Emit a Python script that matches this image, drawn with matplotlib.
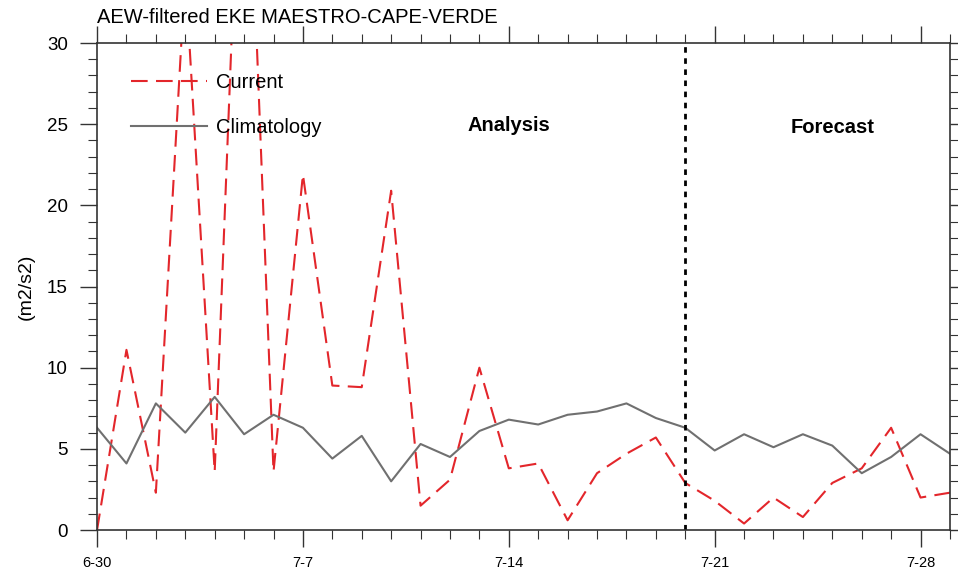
import matplotlib
matplotlib.use("Agg")
import matplotlib.pyplot as plt
import numpy as np

plt.rcParams['font.family'] = ['Liberation Sans', 'DejaVu Sans']

# daily values, 6-30 .. 7-29
days = np.arange(30)
current = [0.0, 11.1, 2.3, 34.3, 3.6, 50.0, 3.6, 21.9, 8.9, 8.8,
           20.9, 1.5, 3.1, 10.0, 3.8, 4.1, 0.6, 3.5, 4.7, 5.7,
           2.9, 1.8, 0.4, 2.0, 0.8, 2.9, 3.8, 6.3, 2.0, 2.3]
climatology = [6.3, 4.1, 7.8, 6.0, 8.2, 5.9, 7.1, 6.3, 4.4, 5.8,
               3.0, 5.3, 4.5, 6.1, 6.8, 6.5, 7.1, 7.3, 7.8, 6.9,
               6.3, 4.9, 5.9, 5.1, 5.9, 5.2, 3.5, 4.5, 5.9, 4.7]
tick_days = [0, 7, 14, 21, 28]
tick_labels = ['6-30', '7-7', '7-14', '7-21', '7-28']
split_day = 20

fig = plt.figure(figsize=(9.58, 5.69), dpi=100)
ax = fig.add_axes([0.1013, 0.0685, 0.8903, 0.8559])

ax.plot(days, current, color='#e3262b', lw=1.5, dashes=(8, 4), label='Current')
ax.plot(days, climatology, color='#707070', lw=1.5, label='Climatology')
ax.axvline(split_day, color='black', lw=2, linestyle=(0, (2, 2)))

ax.set_xlim(0, 29)
ax.set_ylim(0, 30)
ax.set_xticks(tick_days)
ax.set_xticklabels(tick_labels, fontsize=10.5)
ax.set_xticks(days, minor=True)
ax.set_yticks([0, 5, 10, 15, 20, 25, 30])
ax.set_yticks(np.arange(0, 31), minor=True)
ax.tick_params(axis='y', labelsize=13.5, pad=9)
ax.tick_params(axis='x', pad=7)
ax.tick_params(which='major', direction='out', length=12, width=1, color='#333333',
               top=True, right=True, labelright=False, labeltop=False)
ax.tick_params(which='minor', direction='out', length=6.5, width=0.8, color='#333333',
               top=True, right=True)
for sp in ax.spines.values():
    sp.set_color('#333333')
    sp.set_linewidth(1.2)

ax.set_ylabel('(m2/s2)', fontsize=14, labelpad=9)
ax.text(0, 1.041, 'AEW-filtered EKE MAESTRO-CAPE-VERDE', transform=ax.transAxes,
        fontsize=14.5, ha='left', va='baseline')
ax.text(14, 24.9, 'Analysis', fontsize=14.5, fontweight='bold', ha='center', va='center')
ax.text(25, 24.8, 'Forecast', fontsize=14.5, fontweight='bold', ha='center', va='center')

leg = ax.legend(loc='upper left', bbox_to_anchor=(0.018, 0.975), frameon=False,
                fontsize=14.5, handlelength=3.8, handletextpad=0.45, labelspacing=1.3)

fig.savefig('out.png', dpi=100)
